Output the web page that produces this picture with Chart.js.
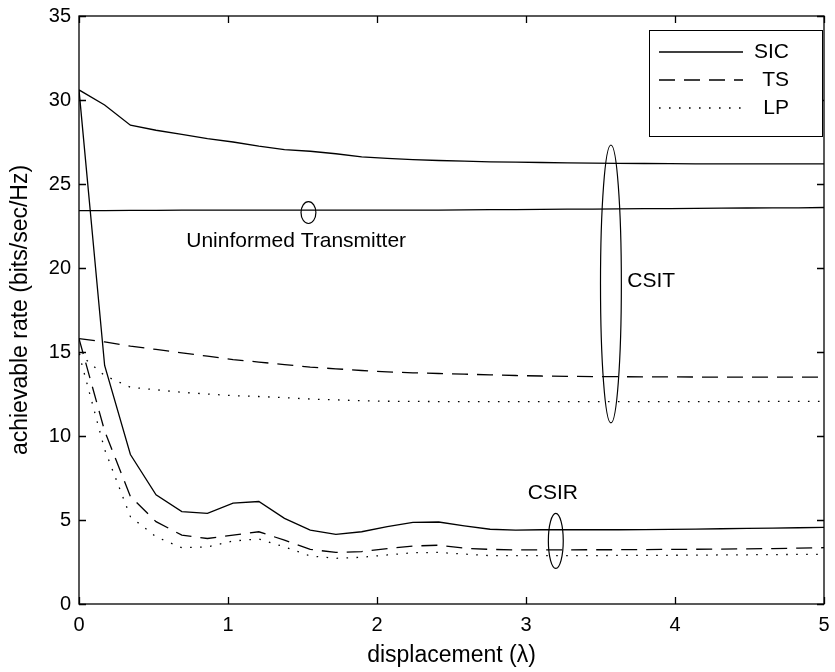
<!DOCTYPE html>
<html>
<head>
<meta charset="utf-8">
<script src="https://cdn.jsdelivr.net/npm/chart.js@4/dist/chart.umd.min.js"></script>
<style>
  html, body { margin: 0; padding: 0; background: #fff; }
  canvas { display: block; }
</style>
</head>
<body>
<canvas id="rateChart" width="835" height="672"></canvas>
<script>
// displacement samples (in wavelengths)
const displacement = [0, 0.172, 0.345, 0.517, 0.690, 0.862, 1.034, 1.207, 1.379, 1.552,
  1.724, 1.897, 2.069, 2.241, 2.414, 2.586, 2.759, 2.931, 3.103, 3.276,
  3.448, 3.621, 3.793, 3.966, 4.138, 4.310, 4.483, 4.655, 4.828, 5.0];

// CSIT curves
const sicCsit = [30.6, 29.7, 28.5, 28.2, 27.95, 27.7, 27.5, 27.25, 27.05, 26.95,
  26.8, 26.62, 26.52, 26.45, 26.4, 26.36, 26.32, 26.3, 26.28, 26.26,
  26.24, 26.23, 26.22, 26.21, 26.2, 26.2, 26.2, 26.2, 26.2, 26.2];
const tsCsit = [15.8, 15.6, 15.35, 15.15, 14.95, 14.75, 14.55, 14.4, 14.25, 14.1,
  14.0, 13.9, 13.82, 13.76, 13.72, 13.68, 13.64, 13.6, 13.57, 13.55,
  13.54, 13.53, 13.52, 13.52, 13.51, 13.51, 13.5, 13.5, 13.5, 13.5];
const lpCsit = [14.9, 13.6, 12.9, 12.75, 12.6, 12.5, 12.4, 12.35, 12.28, 12.2,
  12.15, 12.1, 12.07, 12.06, 12.05, 12.05, 12.05, 12.05, 12.05, 12.05,
  12.05, 12.05, 12.05, 12.05, 12.05, 12.05, 12.05, 12.06, 12.06, 12.06];

// uninformed transmitter
const uninformed = [23.42, 23.42, 23.43, 23.43, 23.44, 23.44, 23.44, 23.45, 23.45, 23.45,
  23.44, 23.44, 23.44, 23.45, 23.45, 23.46, 23.47, 23.48, 23.49, 23.5,
  23.51, 23.52, 23.53, 23.54, 23.55, 23.56, 23.57, 23.58, 23.58, 23.6];

// CSIR curves
const sicCsir = [30.6, 14.2, 8.9, 6.5, 5.5, 5.4, 6.0, 6.1, 5.1, 4.4,
  4.15, 4.3, 4.6, 4.86, 4.88, 4.65, 4.45, 4.4, 4.42, 4.42,
  4.42, 4.42, 4.43, 4.44, 4.46, 4.48, 4.5, 4.52, 4.54, 4.56];
const tsCsir = [15.8, 10.3, 6.4, 4.9, 4.1, 3.9, 4.1, 4.3, 3.8, 3.25,
  3.07, 3.12, 3.3, 3.45, 3.5, 3.32, 3.25, 3.22, 3.22, 3.22,
  3.23, 3.23, 3.24, 3.25, 3.26, 3.27, 3.28, 3.3, 3.33, 3.35];
const lpCsir = [14.9, 9.2, 5.2, 4.0, 3.35, 3.4, 3.75, 3.87, 3.4, 2.86,
  2.72, 2.78, 2.92, 3.05, 3.07, 2.97, 2.88, 2.88, 2.88, 2.88,
  2.88, 2.89, 2.89, 2.9, 2.91, 2.92, 2.93, 2.94, 2.95, 2.96];

const legendNames = ['SIC', 'TS', 'LP'];

const FONT = 'Liberation Sans, Arial, Helvetica, sans-serif';
const SOLID = [];
const DASHED = [16, 9];
const DOTTED = [1.6, 8.4];

function pts(ys) {
  return ys.map((y, i) => ({ x: displacement[i], y: y }));
}

function line(label, ys, dash) {
  return {
    label: label,
    data: pts(ys),
    borderColor: '#000',
    borderWidth: 1.3,
    borderDash: dash,
    pointRadius: 0,
    fill: false,
    tension: 0
  };
}

// box, inward ticks, ellipses, labels and legend
const decorations = {
  id: 'decorations',
  afterDatasetsDraw(chart) {
    const { ctx, chartArea: a, scales: { x, y } } = chart;
    ctx.save();
    ctx.strokeStyle = '#000';
    ctx.lineWidth = 1.3;
    ctx.setLineDash([]);
    ctx.strokeRect(a.left, a.top, a.right - a.left, a.bottom - a.top);

    const tl = 7;
    ctx.beginPath();
    x.ticks.forEach(t => {
      const px = Math.round(x.getPixelForValue(t.value)) + 0.5;
      ctx.moveTo(px, a.bottom); ctx.lineTo(px, a.bottom - tl);
      ctx.moveTo(px, a.top); ctx.lineTo(px, a.top + tl);
    });
    y.ticks.forEach(t => {
      const py = Math.round(y.getPixelForValue(t.value)) + 0.5;
      ctx.moveTo(a.left, py); ctx.lineTo(a.left + tl, py);
      ctx.moveTo(a.right, py); ctx.lineTo(a.right - tl, py);
    });
    ctx.stroke();

    // ellipses grouping the curves
    const ellipse = (cx, cy, rx, ry) => {
      const px = x.getPixelForValue(cx), py = y.getPixelForValue(cy);
      const w = x.getPixelForValue(cx + rx) - px;
      const h = py - y.getPixelForValue(cy + ry);
      ctx.beginPath();
      ctx.ellipse(px, py, w, h, 0, 0, Math.PI * 2);
      ctx.stroke();
    };
    ctx.lineWidth = 1.2;
    ellipse(1.54, 23.3, 0.05, 0.65);
    ellipse(3.57, 19.05, 0.07, 8.27);
    ellipse(3.2, 3.76, 0.05, 1.64);

    ctx.fillStyle = '#000';
    ctx.font = '21px ' + FONT;
    ctx.textBaseline = 'middle';
    ctx.textAlign = 'left';
    ctx.fillText('Uninformed Transmitter', x.getPixelForValue(0.72), y.getPixelForValue(21.6));
    ctx.fillText('CSIT', x.getPixelForValue(3.68), y.getPixelForValue(19.2));
    ctx.textAlign = 'center';
    ctx.fillText('CSIR', x.getPixelForValue(3.18), y.getPixelForValue(6.6));

    // legend
    const bx = a.right - 175, by = a.top + 14, bw = 173, bh = 106;
    ctx.fillStyle = '#fff';
    ctx.fillRect(bx, by, bw, bh);
    ctx.lineWidth = 1;
    ctx.strokeRect(bx + 0.5, by + 0.5, bw, bh);
    legendNames.forEach((name, i) => {
      const ds = chart.data.datasets[i];
      const ly = by + 22 + i * 28;
      ctx.beginPath();
      ctx.lineWidth = ds.borderWidth;
      ctx.setLineDash(ds.borderDash);
      ctx.moveTo(bx + 10, ly);
      ctx.lineTo(bx + 94, ly);
      ctx.stroke();
      ctx.setLineDash([]);
      ctx.fillStyle = '#000';
      ctx.textAlign = 'right';
      ctx.fillText(name, bx + 140, ly);
    });
    ctx.restore();
  }
};

new Chart(document.getElementById('rateChart'), {
  type: 'line',
  data: {
    datasets: [
      line('SIC', sicCsit, SOLID),
      line('TS', tsCsit, DASHED),
      line('LP', lpCsit, DOTTED),
      line('Uninformed', uninformed, SOLID),
      line('SIC CSIR', sicCsir, SOLID),
      line('TS CSIR', tsCsir, DASHED),
      line('LP CSIR', lpCsir, DOTTED)
    ]
  },
  options: {
    responsive: false,
    animation: false,
    layout: { padding: { top: 16, right: 11, left: 0, bottom: 0 } },
    plugins: {
      legend: { display: false },
      tooltip: { enabled: false }
    },
    scales: {
      x: {
        type: 'linear',
        min: 0,
        max: 5,
        afterFit: s => {
          s.height = 68;
          s.paddingLeft = 0;
          s.paddingRight = 0;
        },
        grid: { display: false, drawTicks: false },
        border: { display: false },
        ticks: { stepSize: 1, color: '#000', padding: 9, font: { family: FONT, size: 20 } },
        title: {
          display: true,
          text: 'displacement (\u03bb)',
          color: '#000',
          padding: { top: 0, bottom: 3 },
          font: { family: FONT, size: 23 }
        }
      },
      y: {
        min: 0,
        max: 35,
        afterFit: s => {
          s.width = 79;
          s.paddingTop = 0;
          s.paddingBottom = 0;
        },
        grid: { display: false, drawTicks: false },
        border: { display: false },
        ticks: { stepSize: 5, color: '#000', padding: 8, font: { family: FONT, size: 20 } },
        title: {
          display: true,
          text: 'achievable rate (bits/sec/Hz)',
          color: '#000',
          padding: { top: 7, bottom: 0 },
          font: { family: FONT, size: 23 }
        }
      }
    }
  },
  plugins: [decorations]
});
</script>
</body>
</html>
